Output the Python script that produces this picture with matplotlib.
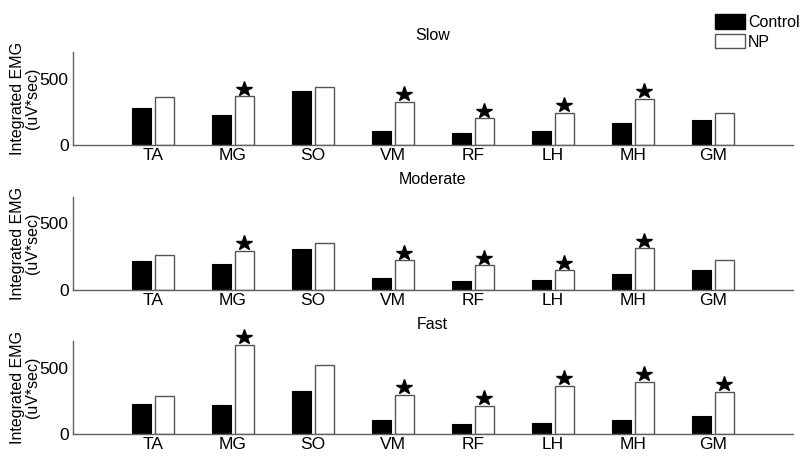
import numpy as np
import matplotlib
matplotlib.use("Agg")
import matplotlib.pyplot as plt
from matplotlib.patches import Patch

plt.rcParams['font.family'] = ['Liberation Sans', 'DejaVu Sans']

#muscles on the x axis
muscles = ['TA', 'MG', 'SO', 'VM', 'RF', 'LH', 'MH', 'GM']

#integrated EMG per speed (uV*sec)
slow_control = [279, 228, 404, 107, 87, 107, 168, 186]
slow_np = [361, 366, 437, 323, 201, 244, 348, 244]
slow_sig = [False, True, False, True, True, True, True, False]

moderate_control = [220, 198, 308, 90, 68, 78, 118, 150]
moderate_np = [263, 291, 351, 223, 186, 148, 313, 225]
moderate_sig = [False, True, False, True, True, True, True, False]

fast_control = [227, 219, 325, 106, 73, 83, 110, 138]
fast_np = [287, 674, 521, 295, 214, 367, 395, 319]
fast_sig = [False, True, False, True, True, True, True, True]

panels = [
    ('Slow', slow_control, slow_np, slow_sig),
    ('Moderate', moderate_control, moderate_np, moderate_sig),
    ('Fast', fast_control, fast_np, fast_sig),
]

#axes rectangles [left, bottom, width, height] in figure fraction
boxes = [
    [0.091, 0.683, 0.900, 0.203],
    [0.091, 0.365, 0.900, 0.205],
    [0.091, 0.050, 0.900, 0.203],
]

fig = plt.figure(figsize=(8, 4.57), dpi=100)
x = np.arange(1, len(muscles) + 1)
w = 0.24
off = 0.145
spine_col = '#606060'

for (title, ctrl, np_vals, sig), box in zip(panels, boxes):
    ax = fig.add_axes(box)
    ax.bar(x - off, ctrl, width=w, color='black', edgecolor='black', linewidth=0.8)
    ax.bar(x + off, np_vals, width=w, color='white', edgecolor='#555555', linewidth=1.0)

    #stars over significant NP bars
    for xi, v, s in zip(x, np_vals, sig):
        if s:
            ax.plot(xi + off, v + 58, marker='*', color='black', markersize=11.5,
                    linestyle='none', clip_on=False)

    ax.set_xlim(0, 9)
    ax.set_ylim(0, 700)
    ax.set_xticks(x)
    ax.set_xticklabels(muscles, fontsize=12.5)
    ax.set_yticks([0, 500])
    ax.tick_params(axis='x', length=0, pad=2)
    ax.tick_params(axis='y', length=0, labelsize=12.5, pad=3)
    for side in ['top', 'right']:
        ax.spines[side].set_visible(False)
    for side in ['left', 'bottom']:
        ax.spines[side].set_color(spine_col)
        ax.spines[side].set_linewidth(1.0)
    ax.set_ylabel('Integrated EMG\n(uV*sec)', fontsize=11.5, linespacing=0.95, labelpad=0)
    ax.set_title(title, fontsize=11.5, pad=9)

handles = [Patch(facecolor='black', edgecolor='black', label='Control'),
           Patch(facecolor='white', edgecolor='#555555', label='NP')]
fig.legend(handles=handles, loc='upper left', bbox_to_anchor=(0.876, 1.0),
           frameon=False, fontsize=11.5, handlelength=1.85, handleheight=1.0,
           handletextpad=0.2, labelspacing=0.25, borderaxespad=0.5)

fig.savefig('out.png', dpi=100)
